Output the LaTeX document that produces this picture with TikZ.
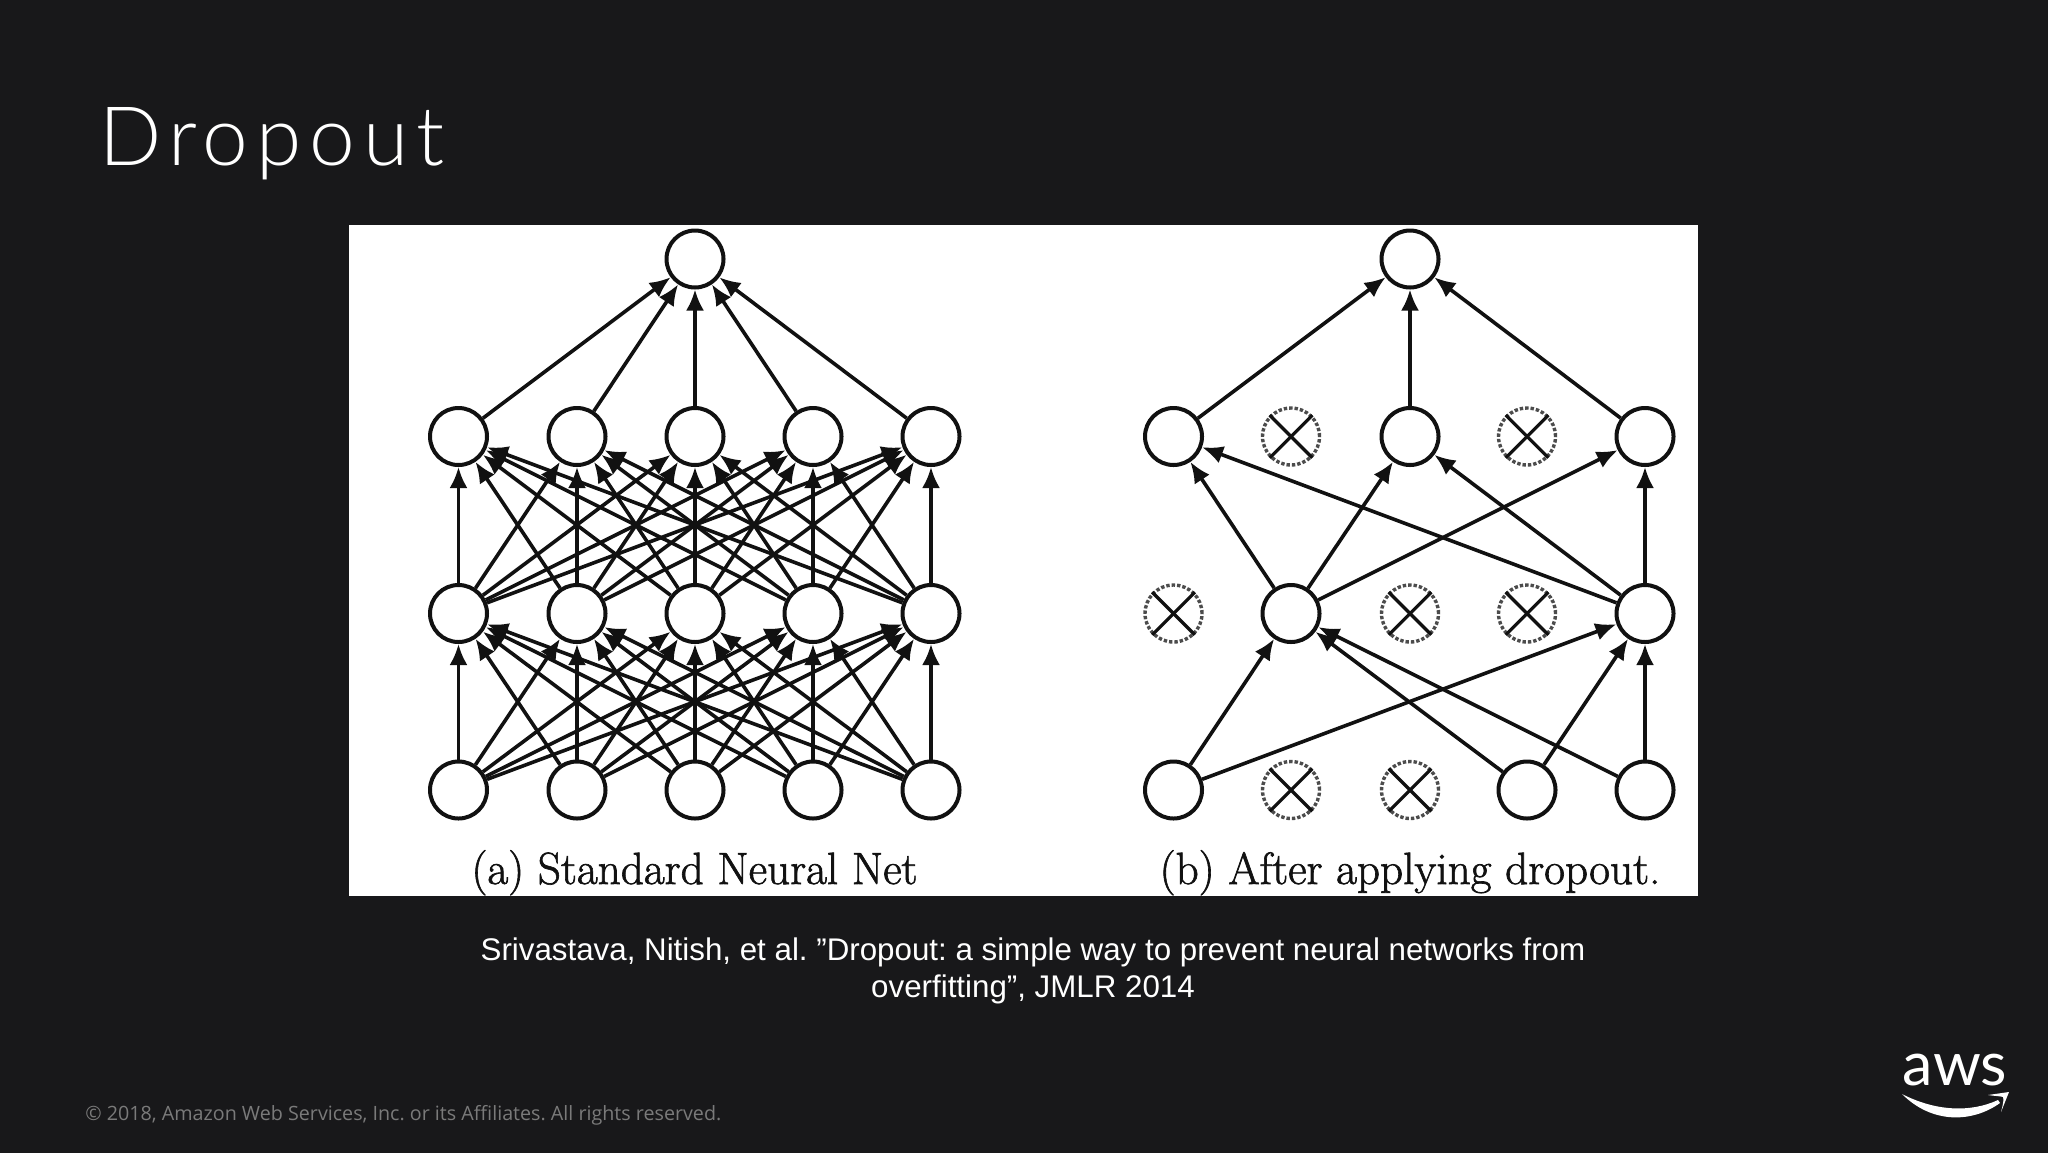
\documentclass[tikz,border=0pt]{standalone}
\usepackage{fontspec}
\setmainfont{Liberation Sans}
\newfontfamily\titlefont[UprightFont=* Light,LetterSpace=9.5]{Lato}
\newfontfamily\footfont{Open Sans}
\newfontfamily\logofont{Lato}
\newfontfamily\cmfont[FakeBold=1.4]{Latin Modern Roman}
\usetikzlibrary{arrows.meta}
\definecolor{slidebg}{HTML}{18181A}
\definecolor{ink}{HTML}{111111}
\definecolor{footgray}{HTML}{7A7A7A}
\tikzset{
  unit/.style={circle,draw=ink,line width=2pt,fill=white,minimum size=28.5pt,inner sep=0pt},
  off/.style={circle,draw=ink!75,line width=1.7pt,densely dotted,minimum size=28.5pt,inner sep=0pt},
  crossline/.style={draw=ink,line width=1.6pt},
  link/.style={draw=ink,line width=1.8pt,-{Latex[length=10.5pt,width=9pt]}},
  caption/.style={font=\cmfont\fontsize{22.6}{26}\selectfont,text=ink,anchor=base,inner sep=0pt},
}
\begin{document}
\frenchspacing
\begin{tikzpicture}[x=0.5pt,y=-0.5pt]
\useasboundingbox (0,0) rectangle (2048,1152);
\fill[slidebg] (-6,-6) rectangle (2054,1158);
\fill[white] (349,224.5) rectangle (1698,896);
\node[anchor=base west,inner sep=0pt,text=white,font=\titlefont\fontsize{41}{48}\selectfont] (title) at (99,165) {Dropout};
% (a) standard network
\node[unit] (at) at (695,259) {};
\foreach \i/\x in {1/458.5,2/577,3/695,4/813,5/931}{
  \node[unit] (a1\i) at (\x,436.5) {};
  \node[unit] (a2\i) at (\x,613.5) {};
  \node[unit] (a3\i) at (\x,790) {};
}
\foreach \i in {1,...,5}{
  \draw[link] (a1\i) -- (at);
  \foreach \j in {1,...,5}{
    \draw[link] (a2\i) -- (a1\j);
    \draw[link] (a3\i) -- (a2\j);
  }
}
\node[caption] (capa) at (694.5,884) {(a) Standard Neural Net};
% (b) after dropout
\node[unit] (bt) at (1410,259) {};
\foreach \i/\x in {1/1173.5,3/1410,5/1645}{\node[unit] (b1\i) at (\x,436.5) {};}
\foreach \i/\x in {2/1291,5/1645}{\node[unit] (b2\i) at (\x,613.5) {};}
\foreach \i/\x in {1/1173.5,4/1527,5/1645}{\node[unit] (b3\i) at (\x,790) {};}
\foreach \n/\x/\y in {x12/1291/436.5,x14/1527/436.5,x21/1173.5/613.5,x23/1410/613.5,x24/1527/613.5,x32/1291/790,x33/1410/790}{
  \node[off] (\n) at (\x,\y) {};
  \draw[crossline] (\n.45) -- (\n.225);
  \draw[crossline] (\n.135) -- (\n.-45);
}
\foreach \i in {1,3,5}{
  \draw[link] (b1\i) -- (bt);
  \draw[link] (b22) -- (b1\i);
  \draw[link] (b25) -- (b1\i);
}
\foreach \i in {1,4,5}{
  \draw[link] (b3\i) -- (b22);
  \draw[link] (b3\i) -- (b25);
}
\node[caption] (capb) at (1410,884) {(b) After applying dropout.};
% citation
\node[anchor=base,inner sep=0pt,text=white,font=\fontsize{15.65}{18}\selectfont] (cite1) at (1033,960.5) {Srivastava, Nitish, et al. ”Dropout: a simple way to prevent neural networks from};
\node[anchor=base,inner sep=0pt,text=white,font=\fontsize{15.65}{18}\selectfont] (cite2) at (1033,997.5) {overfitting”, JMLR 2014};
% footer
\node[anchor=base west,inner sep=0pt,text=footgray,font=\footfont\fontsize{9.85}{12}\selectfont] (foot) at (85,1120) {© 2018, Amazon Web Services, Inc. or its Affiliates. All rights reserved.};
% logo
\node[anchor=base,inner sep=0pt,text=white,font=\logofont\fontsize{30.5}{36}\selectfont] (aws) at (1955,1085) {aws};
\fill[white] (1902,1094) .. controls (1935,1111) and (1970,1113) .. (1998,1100)
  -- (2000,1103) .. controls (1972,1123) and (1932,1124) .. (1902,1094) -- cycle;
\fill[white] (1988,1095) -- (2009,1092) -- (2001,1112) .. controls (2003,1104) and (2004,1100) .. (2003,1097) .. controls (2000,1096) and (1994,1096) .. (1988,1095) -- cycle;
\end{tikzpicture}
\end{document}
